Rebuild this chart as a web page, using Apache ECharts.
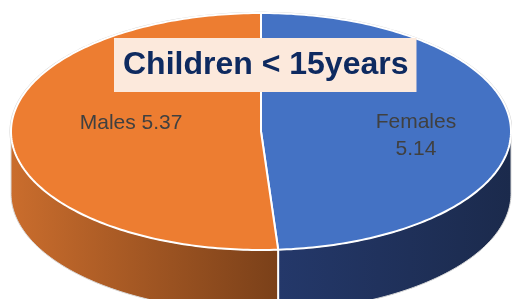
<!DOCTYPE html>
<html><head><meta charset="utf-8">
<script src="https://cdn.jsdelivr.net/npm/echarts@6/dist/echarts.min.js"></script>
<style>html,body{margin:0;padding:0;background:#fff}#c{width:512px;height:299px}</style>
</head><body><div id="c"></div>
<script>
const categories = ['Females', 'Males'];
const values = [5.14, 5.37];
const titleText = 'Children < 15years';

const topColors = ['#4472C4', '#ED7D31'];
const wallColors = [['#24386A', '#1B2A4C'], ['#CA6D2D', '#7A4019']];
const labelFrac = [0.62, 0.52];
const labelShift = [[0, 7], [0, -10]];
const CX = 261, CY = 131.5, RX = 250, RY = 118.5, DEPTH = 62;

const total = values.reduce((a, b) => a + b, 0);
const starts = []; let acc = 0;
values.forEach(v => { starts.push(acc / total * 360); acc += v; });

function pt(deg, dy, s) {
  s = s || 1;
  const r = deg * Math.PI / 180;
  return [CX + RX * s * Math.sin(r), CY - RY * s * Math.cos(r) + (dy || 0)];
}
function arcPts(a, b, dy, s) {
  const pts = []; const n = Math.max(2, Math.ceil(Math.abs(b - a)));
  for (let i = 0; i <= n; i++) pts.push(pt(a + (b - a) * i / n, dy, s));
  return pts;
}

function renderItem(params, api) {
  const i = params.dataIndex;
  const v = api.value(0);
  const a = starts[i], b = a + v / total * 360;
  const children = [];
  if (i === 0) {
    children.push({ type: 'polygon', z2: 0, shape: { points: arcPts(0, 360, 0).map(p => [CX + (p[0] - CX) * 1.006, CY + (p[1] - CY) * 1.01]) },
      style: { fill: '#d4d4d4' } });
  }
  const wa = Math.max(a, 90), wb = Math.min(b, 270);
  if (wb > wa) {
    const pts = arcPts(wa, wb, 0).concat(arcPts(wb, wa, DEPTH));
    children.push({ type: 'polygon', z2: 1, shape: { points: pts },
      style: { fill: new echarts.graphic.LinearGradient(0, 0, 1, 0, [
        { offset: 0, color: wallColors[i][0] }, { offset: 1, color: wallColors[i][1] }]),
        stroke: '#d8d8d8', lineWidth: 1 } });
  }
  if (a > 90 && a < 270) {
    children.push({ type: 'line', z2: 5, shape: { x1: pt(a)[0], y1: pt(a)[1], x2: pt(a)[0], y2: pt(a)[1] + DEPTH },
      style: { stroke: '#fff', lineWidth: 2 } });
  }
  children.push({ type: 'polygon', z2: 10, shape: { points: [[CX, CY]].concat(arcPts(a, b, 0)) },
    style: { fill: topColors[i], stroke: '#fff', lineWidth: 2, lineJoin: 'round' } });
  const mid = (a + b) / 2;
  const lp = pt(mid, 0, labelFrac[i]);
  const txt = i === 0 ? categories[i] + '\n' + values[i] : categories[i] + ' ' + values[i];
  children.push({ type: 'text', z2: 20, x: lp[0] + labelShift[i][0], y: lp[1] + labelShift[i][1],
    style: { text: txt, fill: '#404040', font: '21px "Liberation Sans"', lineHeight: 27,
      textAlign: 'center', textVerticalAlign: 'middle', align: 'center', verticalAlign: 'middle' } });
  return { type: 'group', children };
}

const chart = echarts.init(document.getElementById('c'));
chart.setOption({
  animation: false,
  backgroundColor: '#fff',
  title: {
    text: titleText, left: 114, top: 38, padding: [9, 8, 9, 9],
    backgroundColor: '#FCE9DC',
    textStyle: { fontFamily: 'Liberation Sans', fontWeight: 'bold', fontSize: 32, color: '#0E2A60', lineHeight: 36 }
  },
  series: [{
    type: 'custom', coordinateSystem: 'none', renderItem,
    data: values.map((v, i) => ({ name: categories[i], value: v }))
  }]
});
</script></body></html>
